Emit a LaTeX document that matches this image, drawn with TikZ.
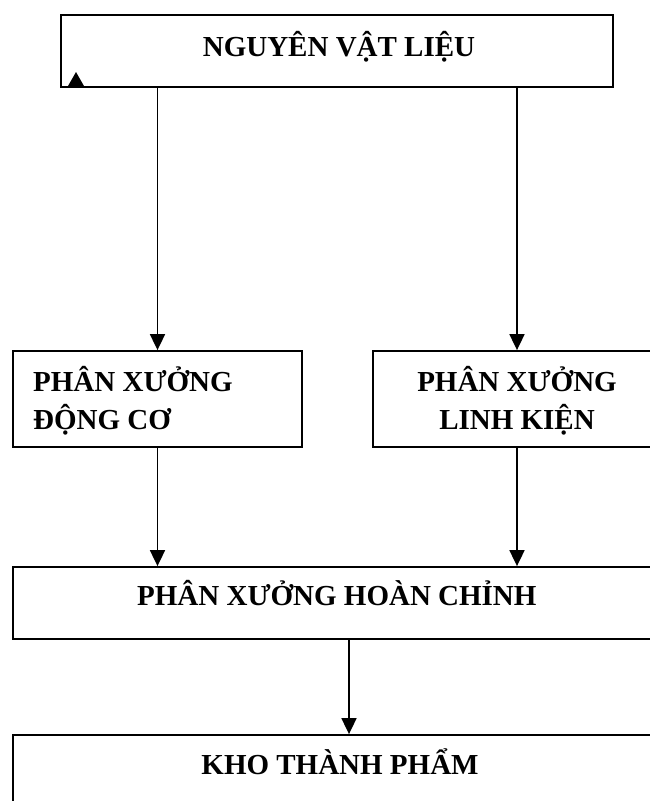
\documentclass[tikz,border=0pt]{standalone}
\usepackage{fontspec}
\setmainfont{Liberation Serif}
\usetikzlibrary{arrows.meta}
\begin{document}
\begin{tikzpicture}[x=1pt,y=-1pt,
  box/.style={draw=black,line width=1.8pt,rectangle,inner sep=0pt,fill=white},
  lbl/.style={inner sep=0pt,font=\fontsize{29}{38}\selectfont\bfseries},
  arr/.style={draw=black,line width=1.8pt,-{Triangle[width=15pt,length=16pt]}}]
\useasboundingbox (0,0) rectangle (650,801);
\clip (0,0) rectangle (650,801);
\fill[white] (0,0) rectangle (650,801);

% boxes
\node[box,minimum width=552pt,minimum height=72pt] (nvl) at (337,51) {};
\node[box,minimum width=289pt,minimum height=96pt] (dc) at (157.5,399) {};
\node[box,minimum width=288pt,minimum height=96pt] (lk) at (517,399) {};
\node[box,minimum width=672pt,minimum height=72pt] (hc) at (349,603) {};
\node[box,minimum width=672pt,minimum height=100pt] (kho) at (349,785) {};

% small marker in the first box
\fill (68,86) -- (84,86) -- (76,72) -- cycle;

% labels
\node[lbl,anchor=base] (tnvl) at (339,56) {NGUYÊN VẬT LIỆU};
\node[lbl,anchor=base west] (tdc1) at (33,391) {PHÂN XƯỞNG};
\node[lbl,anchor=base west] (tdc2) at (33,429) {ĐỘNG CƠ};
\node[lbl,anchor=base] (tlk1) at (517,391) {PHÂN XƯỞNG};
\node[lbl,anchor=base] (tlk2) at (517,429) {LINH KIỆN};
\node[lbl,anchor=base west] (thc) at (137,605) {PHÂN XƯỞNG HOÀN CHỈNH};
\node[lbl,anchor=base] (tkho) at (340,774) {KHO THÀNH PHẨM};

% flow
\draw[arr] (nvl.south -| dc.north) -- (dc.north);
\draw[arr] (nvl.south -| lk.north) -- (lk.north);
\draw[arr] (dc.south) -- (dc.south |- hc.north);
\draw[arr] (lk.south) -- (lk.south |- hc.north);
\draw[arr] (hc.south) -- (kho.north);
\end{tikzpicture}
\end{document}
